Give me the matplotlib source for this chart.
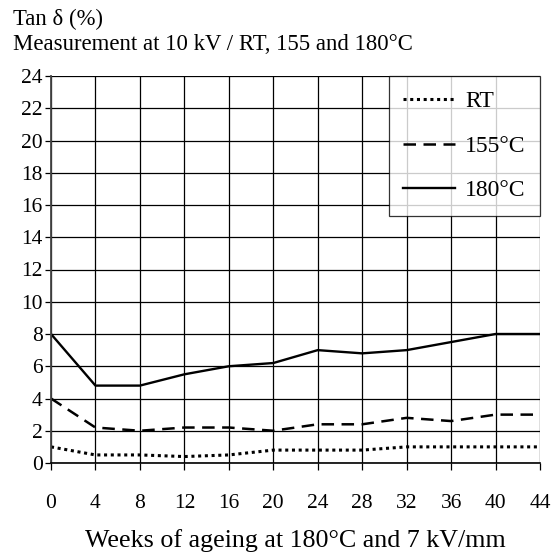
import matplotlib
matplotlib.use("Agg")
import matplotlib.pyplot as plt

plt.rcParams['font.family'] = ['Liberation Serif', 'DejaVu Serif']

weeks = [0, 4, 8, 12, 16, 20, 24, 28, 32, 36, 40, 44]
tan_rt = [1.0, 0.5, 0.5, 0.4, 0.5, 0.8, 0.8, 0.8, 1.0, 1.0, 1.0, 1.0]
tan_155 = [4.0, 2.2, 2.0, 2.2, 2.2, 2.0, 2.4, 2.4, 2.8, 2.6, 3.0, 3.0]
tan_180 = [8.0, 4.8, 4.8, 5.5, 6.0, 6.2, 7.0, 6.8, 7.0, 7.5, 8.0, 8.0]
y_ticks = list(range(0, 25, 2))

W, H = 560, 555
ax_left, ax_right, ax_top, ax_bottom = 51, 540, 76, 463

fig = plt.figure(figsize=(W / 100, H / 100), dpi=100)
ax = fig.add_axes([ax_left / W, 1 - ax_bottom / H,
                   (ax_right - ax_left) / W, (ax_bottom - ax_top) / H])

ax.plot(weeks, tan_rt, color='black', linestyle=(0, (1, 1.2)), linewidth=2.2, label='RT')
ax.plot(weeks, tan_155, color='black', linestyle=(0, (5, 3)), linewidth=1.8, label='155°C')
ax.plot(weeks, tan_180, color='black', linestyle='-', linewidth=1.7, label='180°C')

ax.set_xlim(0, 44)
ax.set_ylim(0, 24)
ax.set_xticks(weeks)
ax.set_yticks(y_ticks)
ax.grid(True, color='black', linewidth=0.9)
ax.set_axisbelow(True)
for side in ['top', 'right']:
    ax.spines[side].set_visible(False)
ax.spines['left'].set_linewidth(1.3)
ax.spines['left'].set_color('#444444')
ax.spines['bottom'].set_linewidth(1.2)
ax.tick_params(direction='out', width=0.9, labelsize=15.5)
ax.tick_params(axis='x', length=5, pad=17.5)
ax.tick_params(axis='y', length=4, pad=2)

# x axis title, placed by baseline
fig.text((ax_left + ax_right) / 2 / W, 1 - 547 / H, 'Weeks of ageing at 180°C and 7 kV/mm',
         fontsize=18.7, ha='center', va='baseline')

fig.text(13 / W, 1 - 25 / H, 'Tan δ (%)', fontsize=16.4, va='baseline', ha='left')
fig.text(13 / W, 1 - 50 / H, 'Measurement at 10 kV / RT, 155 and 180°C',
         fontsize=16.4, va='baseline', ha='left')

leg = ax.legend(loc='upper right', bbox_to_anchor=(1, 1),
                frameon=True, fancybox=False, edgecolor='black', fontsize=17,
                handlelength=2.2, handletextpad=0.4, labelspacing=0.98,
                borderpad=0.62, borderaxespad=0)
leg.get_frame().set_linewidth(0.9)

fig.savefig('out.png', dpi=100)
